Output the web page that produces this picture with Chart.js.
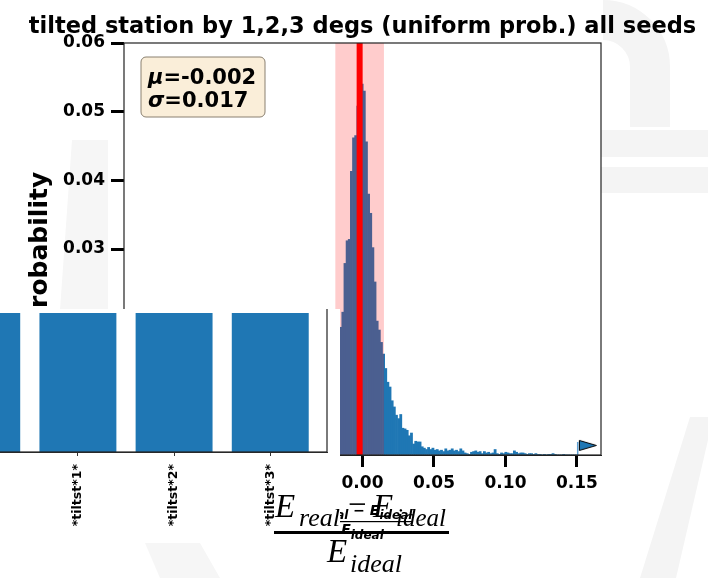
<!DOCTYPE html>
<html>
<head>
<meta charset="utf-8">
<script src="https://cdn.jsdelivr.net/npm/chart.js@4.4.0/dist/chart.umd.min.js"></script>
<style>
  html, body { margin: 0; padding: 0; background: #fff; }
  #stage { position: relative; width: 708px; height: 578px; overflow: hidden; }
  #main { position: absolute; left: 0; top: 0; }
  #inset { position: absolute; left: 0; top: 309px; width: 340px; height: 234px; overflow: hidden; background: #fff; }
  #inset canvas { position: absolute; left: -75px; top: -9px; }
  .fx { position: absolute; font-family: "Liberation Serif", "DejaVu Serif", serif; font-style: italic; line-height: 1; white-space: nowrap; color: #000; }
  .fbar { position: absolute; background: #000; }
</style>
</head>
<body>
<div id="stage">
  <canvas id="main" width="708" height="578"></canvas>
  <div id="inset"><canvas id="bars" width="410" height="243"></canvas></div>
  <!-- (E_real - E_ideal) / E_ideal -->
  <div class="fx" style="left:275px;top:490px;font-size:33px">E</div>
  <div class="fx" style="left:299px;top:505px;font-size:26px">real</div>
  <div class="fx" style="left:348px;top:488px;font-size:33px;font-style:normal">&minus;</div>
  <div class="fx" style="left:373px;top:490px;font-size:33px">E</div>
  <div class="fx" style="left:396px;top:505px;font-size:25px">ideal</div>
  <div class="fbar" style="left:274px;top:531px;width:175px;height:2.5px"></div>
  <div class="fx" style="left:327px;top:535px;font-size:33px">E</div>
  <div class="fx" style="left:350px;top:551px;font-size:26px">ideal</div>
</div>
<script>
const titleText = 'tilted station by 1,2,3 degs (uniform prob.) all seeds';

// histogram of relative energy error, regular bins
const binStart = -0.019;
const binWidth = 0.0015;
const binProbs = [
  0.006, 0.012, 0.0186, 0.0208, 0.0279, 0.0312, 0.0314, 0.0413, 0.0462, 0.0465,
  0.0508, 0.052, 0.054, 0.053, 0.0456, 0.038, 0.0352, 0.0302, 0.0252, 0.0195,
  0.0182, 0.0164, 0.0147, 0.0126, 0.0106, 0.0099, 0.0079, 0.0070, 0.0058, 0.0053,
  0.0059, 0.0039, 0.0038, 0.0036, 0.0028, 0.0032, 0.0016, 0.0020, 0.0019, 0.0019,
  0.0012, 0.0010, 0.0008, 0.0011, 0.0008,
  0.0010, 0.0007, 0.0008, 0.0006, 0.0007, 0.0005, 0.0009, 0.0006, 0.0007, 0.0009,
  0.0006, 0.0007, 0.0005, 0.0009, 0.0006, 0.0003, 0.0002, 0.0001, 0.0004, 0.0005,
  0.0006, 0.0004, 0.0005, 0.0002, 0.0005, 0.0003, 0.0004, 0.0002, 0.0003, 0.0008,
  0.0002, 0.0001, 0.0003, 0.0002, 0.0004, 0.0003, 0.0002, 0.0002, 0.0006, 0.0004,
  0.0002, 0.0003, 0.0003, 0.0002, 0.0001, 0.0002, 0.0002, 0.0001, 0.0002, 0.0001,
  0.0001, 0, 0.0001, 0, 0.0001, 0.0001, 0.0002, 0.0001, 0, 0,
  0, 0.0001, 0, 0, 0, 0, 0, 0
];

const meanVal = -0.002;
const stdVal = 0.017;

// overflow flag at the far right
const outlierX = 0.1505;
const outlierTop = 0.0019;
const flagPoint = { x: 0.1576, y: 0.0014 };

const xTicks = [-0.15, -0.10, -0.05, 0.00, 0.05, 0.10, 0.15];
const yTicks = [0.00, 0.01, 0.02, 0.03, 0.04, 0.05, 0.06];

// inset: share of runs per tilt setting
const tiltLabels = ['*tiltst*0*', '*tiltst*1*', '*tiltst*2*', '*tiltst*3*'];
const tiltShares = [0.25, 0.25, 0.25, 0.25];

const BLUE = '#1f77b4';
const boldFont = (size) => ({ family: 'DejaVu Sans', size: size, weight: 'bold' });

// flag-shaped marker
const flag = document.createElement('canvas');
flag.width = 20; flag.height = 13;
(function () {
  const c = flag.getContext('2d');
  c.beginPath();
  c.moveTo(1.5, 1.5); c.lineTo(18.5, 6.5); c.lineTo(1.5, 11.5); c.closePath();
  c.fillStyle = BLUE; c.fill();
  c.strokeStyle = '#000'; c.lineWidth = 1; c.stroke();
})();

// faint logo shapes behind the figure
const backdrop = {
  id: 'backdrop',
  beforeDraw(chart) {
    const { ctx } = chart;
    ctx.save();
    ctx.fillStyle = '#f4f4f4';
    ctx.strokeStyle = '#f4f4f4';
    ctx.lineWidth = 40;
    ctx.beginPath();
    ctx.arc(603, 67, 47, -Math.PI / 2, 0);
    ctx.lineTo(650, 127);
    ctx.stroke();
    ctx.fillRect(601, 130, 107, 27);
    ctx.fillRect(601, 167, 107, 26);
    ctx.beginPath();
    ctx.moveTo(690, 417); ctx.lineTo(708, 417); ctx.lineTo(708, 440);
    ctx.lineTo(676, 578); ctx.lineTo(640, 578); ctx.closePath();
    ctx.fill();
    ctx.fillStyle = '#f6f6f6';
    ctx.beginPath();
    ctx.moveTo(72, 140); ctx.lineTo(108, 140); ctx.lineTo(108, 310); ctx.lineTo(60, 310); ctx.closePath();
    ctx.fill();
    ctx.beginPath();
    ctx.moveTo(145, 543); ctx.lineTo(200, 543); ctx.lineTo(220, 578); ctx.lineTo(160, 578); ctx.closePath();
    ctx.fill();
    ctx.restore();
  }
};

const titleBar = {
  id: 'titleBar',
  afterDraw(chart) {
    const { ctx, chartArea: a } = chart;
    ctx.save();
    ctx.font = 'bold 22.5px "DejaVu Sans"';
    ctx.fillStyle = '#000';
    ctx.textAlign = 'center';
    ctx.textBaseline = 'alphabetic';
    ctx.fillText(titleText, (a.left + a.right) / 2, a.top - 10);
    ctx.restore();
  }
};

const frame = {
  id: 'frame',
  afterDraw(chart) {
    const { ctx, chartArea: a } = chart;
    ctx.save();
    ctx.strokeStyle = '#222';
    ctx.lineWidth = 1.2;
    ctx.strokeRect(a.left, a.top, a.width, a.height);
    ctx.restore();
  }
};

const sigmaBand = {
  id: 'sigmaBand',
  beforeDatasetsDraw(chart) {
    const { ctx, chartArea: a } = chart;
    ctx.save();
    ctx.fillStyle = '#fff';
    ctx.fillRect(a.left, a.top, a.width, a.height);
    ctx.restore();
  },
  afterDatasetsDraw(chart) {
    const { ctx, chartArea: a, scales: { x } } = chart;
    ctx.save();
    ctx.beginPath();
    ctx.rect(a.left, a.top, a.width, a.height);
    ctx.clip();
    const l = x.getPixelForValue(meanVal - stdVal);
    const r = x.getPixelForValue(meanVal + stdVal);
    ctx.fillStyle = 'rgba(255,0,0,0.2)';
    ctx.fillRect(l, a.top, r - l, a.height);
    const m = x.getPixelForValue(meanVal);
    ctx.strokeStyle = '#ff0000';
    ctx.lineWidth = 6;
    ctx.beginPath();
    ctx.moveTo(m, a.top);
    ctx.lineTo(m, a.bottom);
    ctx.stroke();
    ctx.restore();
  }
};

function drawRun(ctx, parts, cx, y) {
  let w = 0;
  parts.forEach(p => { ctx.font = p[1]; w += ctx.measureText(p[0]).width; });
  let x = cx - w / 2;
  parts.forEach(p => {
    ctx.font = p[1];
    ctx.fillText(p[0], x, y + p[2]);
    x += ctx.measureText(p[0]).width;
  });
  return w;
}

const annotations = {
  id: 'annotations',
  afterDraw(chart) {
    const { ctx, chartArea: a } = chart;
    ctx.save();
    // stats box
    const bx = a.left + 17, by = a.top + 14;
    ctx.beginPath();
    ctx.roundRect(bx, by, 124, 60, 5);
    ctx.fillStyle = 'rgba(245,222,179,0.5)';
    ctx.fill();
    ctx.strokeStyle = '#8a8070';
    ctx.lineWidth = 1;
    ctx.stroke();
    ctx.fillStyle = '#000';
    ctx.textBaseline = 'alphabetic';
    const lines = [['\u03bc', '=' + meanVal.toFixed(3)], ['\u03c3', '=' + stdVal.toFixed(3)]];
    lines.forEach((ln, i) => {
      let x = bx + 7;
      const y = by + 27 + i * 23;
      ctx.font = 'italic bold 21px "DejaVu Sans"';
      ctx.fillText(ln[0], x, y);
      x += ctx.measureText(ln[0]).width;
      ctx.font = 'bold 21px "DejaVu Sans"';
      ctx.fillText(ln[1], x, y);
    });
    // axis label as a bold fraction
    const cx = (a.left + a.right) / 2;
    const E = 'italic bold 14px "DejaVu Sans"';
    const S = 'italic bold 12px "DejaVu Sans"';
    const U = 'bold 14px "DejaVu Sans"';
    const w = drawRun(ctx, [['E', E, 0], ['real', S, 4], [' \u2212 ', U, 0], ['E', E, 0], ['ideal', S, 4]], cx, 515);
    ctx.fillRect(cx - w / 2, 521, w, 1.2);
    drawRun(ctx, [['E', E, 0], ['ideal', S, 5]], cx, 534);
    ctx.restore();
  }
};

new Chart(document.getElementById('main'), {
  type: 'bar',
  data: {
    datasets: [
      {
        type: 'scatter',
        data: [flagPoint],
        pointStyle: flag,
        order: 1
      },
      {
        type: 'line',
        data: [{ x: outlierX, y: 0 }, { x: outlierX, y: outlierTop }],
        borderColor: '#5d9fd3',
        borderWidth: 1.5,
        pointRadius: 0,
        order: 2
      },
      {
        type: 'bar',
        data: binProbs.map((p, i) => ({ x: binStart + (i + 0.5) * binWidth, y: p })),
        backgroundColor: BLUE,
        borderWidth: 0,
        barPercentage: 1,
        categoryPercentage: 1,
        order: 3
      }
    ]
  },
  options: {
    responsive: false,
    animation: false,
    devicePixelRatio: 1,
    layout: { padding: { left: 0, right: 107, top: 43, bottom: 0 } },
    plugins: {
      legend: { display: false },
      tooltip: { enabled: false },
      title: { display: false }
    },
    scales: {
      x: {
        type: 'linear',
        min: -0.1668,
        max: 0.1668,
        offset: false,
        afterBuildTicks: s => { s.ticks = xTicks.map(v => ({ value: v })); },
        afterFit: s => { s.height = 123; },
        ticks: {
          callback: v => v.toFixed(2),
          color: '#000',
          font: boldFont(17),
          padding: 6,
          maxRotation: 0,
          autoSkip: false
        },
        grid: { drawOnChartArea: false, drawTicks: true, tickLength: 12, tickWidth: 3, tickColor: '#000', offset: false },
        border: { display: true, color: '#222', width: 1 }
      },
      y: {
        min: 0,
        max: 0.06,
        afterBuildTicks: s => { s.ticks = yTicks.map(v => ({ value: v })); },
        afterFit: s => { s.width = 124; },
        ticks: {
          callback: v => v.toFixed(2),
          color: '#000',
          font: boldFont(17),
          padding: 6
        },
        grid: { drawOnChartArea: false, drawTicks: true, tickLength: 13, tickWidth: 3, tickColor: '#000' },
        border: { display: true, color: '#222', width: 1 },
        title: {
          display: true,
          text: 'Probability',
          color: '#000',
          font: boldFont(25),
          padding: { top: 25, bottom: 0 }
        }
      }
    }
  },
  plugins: [backdrop, sigmaBand, annotations, frame, titleBar]
});

new Chart(document.getElementById('bars'), {
  type: 'bar',
  data: {
    datasets: [{
      data: tiltShares.map((v, i) => ({ x: i, y: v })),
      backgroundColor: BLUE,
      borderWidth: 0,
      barPercentage: 0.8,
      categoryPercentage: 1
    }]
  },
  options: {
    responsive: false,
    animation: false,
    devicePixelRatio: 1,
    layout: { padding: { left: 0, right: 8, top: 6, bottom: 0 } },
    plugins: { legend: { display: false }, tooltip: { enabled: false } },
    scales: {
      x: {
        type: 'linear',
        min: -0.59,
        max: 3.59,
        offset: false,
        afterBuildTicks: s => { s.ticks = tiltLabels.map((_, i) => ({ value: i })); },
        afterFit: s => { s.height = 91; },
        ticks: {
          callback: v => tiltLabels[v],
          autoSkip: false,
          minRotation: 90,
          maxRotation: 90,
          color: '#000',
          font: boldFont(12.5),
          padding: 8
        },
        grid: { drawOnChartArea: false, drawTicks: true, tickLength: 4, tickWidth: 1, tickColor: '#333', offset: false },
        border: { display: true, color: '#333', width: 1 }
      },
      y: { display: false, min: 0, max: 0.2625 }
    }
  },
  plugins: [frame]
});
</script>
</body>
</html>
